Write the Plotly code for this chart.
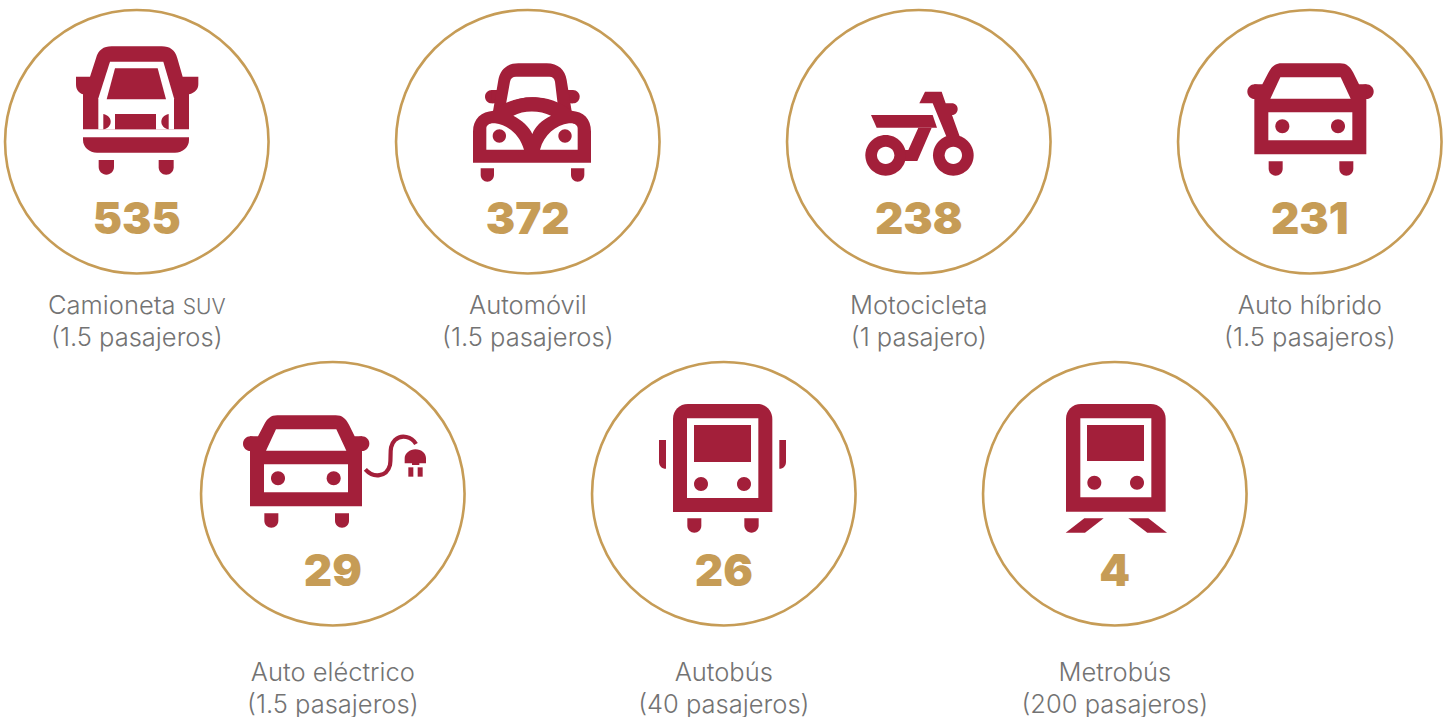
import re
import plotly.graph_objects as go

# ---------- data ----------
vehicles = ["Camioneta SUV", "Automóvil", "Motocicleta", "Auto híbrido",
            "Auto eléctrico", "Autobús", "Metrobús"]
passengers = ["(1.5 pasajeros)", "(1.5 pasajeros)", "(1 pasajero)", "(1.5 pasajeros)",
              "(1.5 pasajeros)", "(40 pasajeros)", "(200 pasajeros)"]
values = [535, 372, 238, 231, 29, 26, 4]

# ---------- layout ----------
W, H = 1451, 717
RED = "#A31F3A"
GOLD = "#C69C56"
GREY = "#737373"
centre_x = [136.8, 527.8, 918.8, 1309.8, 332.8, 723.8, 1114.8]
centre_y = [141.7] * 4 + [493.7] * 3
value_y = [222.5] * 4 + [574.5] * 3
line1_y = [307.5] * 4 + [674.5] * 3
line2_y = [339.5] * 4 + [706.5] * 3

K = 0.5523


def circ(cx, cy, r):
    k = K * r
    return (f"M {cx-r} {cy} C {cx-r} {cy-k} {cx-k} {cy-r} {cx} {cy-r} "
            f"C {cx+k} {cy-r} {cx+r} {cy-k} {cx+r} {cy} "
            f"C {cx+r} {cy+k} {cx+k} {cy+r} {cx} {cy+r} "
            f"C {cx-k} {cy+r} {cx-r} {cy+k} {cx-r} {cy} Z")


def rect(x0, y0, x1, y1):
    return f"M {x0} {y0} L {x1} {y0} L {x1} {y1} L {x0} {y1} Z"


def wheel(x0, y0, x1, y1):
    r = (x1 - x0) / 2
    k = K * r
    c = (x0 + x1) / 2
    return (f"M {x0} {y0} L {x1} {y0} L {x1} {y1-r} C {x1} {y1-r+k} {c+k} {y1} {c} {y1} "
            f"C {c-k} {y1} {x0} {y1-r+k} {x0} {y1-r} Z")


shapes = []


def add(ox, oy, d, color=RED, stroke=None):
    """d is written in the 3x crop's coordinates, origin (ox, oy) in the page."""
    toks = re.findall(r"[MLCZ]|-?\d+\.?\d*", d)
    out, is_x = [], True
    for t in toks:
        if t in "MLCZ":
            out.append(t)
        else:
            v = float(t)
            out.append(f"{(ox + v/3) if is_x else (oy + v/3):.2f}")
            is_x = not is_x
    path = " ".join(out)
    if stroke:
        shapes.append(dict(type="path", path=path, line=dict(color=color, width=stroke),
                           fillcolor="rgba(0,0,0,0)", xref="x", yref="y"))
    else:
        shapes.append(dict(type="path", path=path, line=dict(width=0), fillcolor=color,
                           xref="x", yref="y"))


# --- SUV ---
o = (0, 0)
add(*o, "M 249 388 L 249 283 C 235 278 228 268 228 252 L 228 230 L 270 230 L 288 175 "
        "C 295 150 310 139 335 139 L 485 139 C 510 139 525 150 532 175 L 548 230 L 595 230 "
        "L 595 252 C 595 268 585 278 567 283 L 567 388 Z")
add(*o, "M 330 185 L 490 185 L 522 295 L 522 388 L 295 388 L 295 295 Z", "white")
add(*o, "M 345 205 L 473 205 L 498 298 L 320 298 Z")
add(*o, rect(345, 342, 468, 388))
add(*o, "M 310 342 C 325 345 332 355 332 365 C 332 375 325 385 310 388 Z")
add(*o, "M 506 342 C 491 345 484 355 484 365 C 484 375 491 385 506 388 Z")
add(*o, "M 249 412 L 567 412 L 567 420 C 567 442 548 458 525 458 L 291 458 C 268 458 249 442 249 420 Z")
add(*o, wheel(296, 480, 342, 524))
add(*o, wheel(476, 480, 521, 524))

# --- Beetle ---
o = (390, 0)
add(*o, circ(305, 290, 20))
add(*o, circ(549, 290, 20))
add(*o, rect(305, 270, 549, 310))
add(*o, "M 308 340 L 325 240 C 330 210 350 190 385 190 L 470 190 C 505 190 525 210 530 240 L 546 340 Z")
add(*o, "M 348 312 L 360 245 C 362 235 368 230 378 230 L 478 230 C 488 230 493 235 495 245 "
        "L 503 312 C 460 285 395 285 348 312 Z", "white")
add(*o, "M 249 488 L 249 395 C 249 355 275 335 310 332 C 345 305 385 292 427 292 "
        "C 470 292 510 305 545 332 C 580 335 603 355 603 395 L 603 488 Z")
add(*o, "M 370 347 C 400 330 450 330 483 347 C 455 360 435 380 427 402 C 418 380 395 360 370 347 Z", "white")
add(*o, "M 289 449 L 289 385 C 289 375 300 368 315 370 C 355 375 390 405 402 449 Z", "white")
add(*o, "M 563 449 L 563 385 C 563 375 552 368 537 370 C 497 375 462 405 450 449 Z", "white")
add(*o, circ(328, 408, 20))
add(*o, circ(525, 408, 20))
add(*o, wheel(272, 505, 312, 545))
add(*o, wheel(543, 505, 583, 545))

# --- Motorcycle ---
o = (780, 50)
add(*o, "M 273 195 L 458 195 L 471 233 L 290 233 Z")
add(*o, "M 415 233 L 455 233 L 412 333 L 360 333 L 372 300 L 385 300 Z")
add(*o, "M 435 125 L 485 125 L 497 160 L 515 160 C 526 160 533 168 533 177 C 533 187 526 195 516 195 "
        "L 540 262 L 500 262 L 458 160 L 418 160 Z")
add(*o, circ(317, 316, 61))
add(*o, circ(317, 316, 26), "white")
add(*o, circ(520, 316, 61))
add(*o, circ(520, 316, 26), "white")


# --- Sedan (hybrid & electric) ---
def sedan(ox, oy):
    o = (ox, oy)
    add(*o, circ(239, 155, 22))
    add(*o, circ(574, 155, 22))
    add(*o, "M 238 343 L 238 133 L 262 133 L 280 98 C 290 80 300 70 320 70 L 495 70 C 515 70 525 80 535 98 "
            "L 552 133 L 574 133 L 574 343 Z")
    add(*o, "M 316 112 L 497 112 L 527 176 L 286 176 Z", "white")
    add(*o, rect(280, 217, 532, 301), "white")
    add(*o, circ(322, 259, 21))
    add(*o, circ(489, 259, 21))
    add(*o, wheel(281, 364, 323, 407))
    add(*o, wheel(493, 364, 535, 407))


sedan(1175, 40)
sedan(170.67, 392)

# electric cord and plug
o = (200, 390)
add(*o, "M 496 238 C 520 265 560 262 570 225 C 575 195 565 170 585 150 C 605 132 635 140 648 162",
    stroke=4.2)
add(*o, "M 614 220 L 614 205 C 614 190 630 178 646 178 C 665 178 678 190 678 205 L 678 220 L 658 220 "
        "L 658 225 L 636 225 L 636 220 Z")
add(*o, rect(625, 232, 640, 260))
add(*o, rect(653, 232, 668, 260))

# --- Bus ---
o = (640, 390)
round_box = "M {a} {d} L {a} {t2} C {a} {t1} {a2} {t} {a3} {t} L {b3} {t} C {b2} {t} {b} {t1} {b} {t2} L {b} {d} Z"
add(*o, round_box.format(a=99, a2=118, a3=144, b=397, b2=378, b3=352, t=42, t1=61, t2=87, d=366))
add(*o, rect(141, 85, 355, 324), "white")
add(*o, rect(162, 105, 333, 216))
add(*o, circ(183, 282, 21))
add(*o, circ(312, 282, 21))
add(*o, "M 57 150 L 78 150 L 78 236 C 65 236 57 228 57 215 Z")
add(*o, "M 418 150 L 438 150 L 438 215 C 438 228 430 236 418 236 Z")
add(*o, wheel(142, 385, 184, 428))
add(*o, wheel(313, 385, 356, 428))

# --- Metrobus ---
o = (1040, 390)
add(*o, round_box.format(a=78, a2=97, a3=123, b=377, b2=358, b3=332, t=42, t1=61, t2=87, d=365))
add(*o, rect(121, 85, 334, 322), "white")
add(*o, rect(141, 105, 312, 213))
add(*o, circ(163, 278, 21))
add(*o, circ(291, 278, 21))
add(*o, "M 133 385 L 191 385 L 135 428 L 77 428 Z")
add(*o, "M 265 385 L 325 385 L 381 428 L 322 428 Z")

# ---------- figure ----------
fig = go.Figure()
fig.add_trace(go.Scatter(
    x=centre_x, y=centre_y, mode="markers", hoverinfo="skip",
    marker=dict(size=263.5, color="rgba(0,0,0,0)", line=dict(color=GOLD, width=2.6)),
))
fig.add_trace(go.Scatter(
    x=centre_x, y=value_y, mode="text", text=[str(v) for v in values], hoverinfo="skip",
    textposition="middle center",
    textfont=dict(family="Inter", size=44, color=GOLD, weight=900),
))
fig.add_trace(go.Scatter(
    x=centre_x, y=line1_y, mode="text", hoverinfo="skip",
    text=[v.replace("SUV", "<span style='font-size:21px'>SUV</span>") for v in vehicles],
    textposition="middle center",
    textfont=dict(family="Inter", size=25.5, color=GREY, weight=300),
))
fig.add_trace(go.Scatter(
    x=centre_x, y=line2_y, mode="text", text=passengers, hoverinfo="skip",
    textposition="middle center",
    textfont=dict(family="Inter", size=25.5, color=GREY, weight=300),
))
fig.update_layout(
    width=W, height=H, autosize=False, showlegend=False,
    margin=dict(l=0, r=0, t=0, b=0),
    paper_bgcolor="white", plot_bgcolor="white",
    xaxis=dict(range=[0, W], visible=False, fixedrange=True),
    yaxis=dict(range=[H, 0], visible=False, fixedrange=True),
    shapes=shapes,
)
fig.write_html("out.html", config=dict(displayModeBar=False),
               post_script="document.body.style.margin='0';document.body.style.overflow='hidden';")
